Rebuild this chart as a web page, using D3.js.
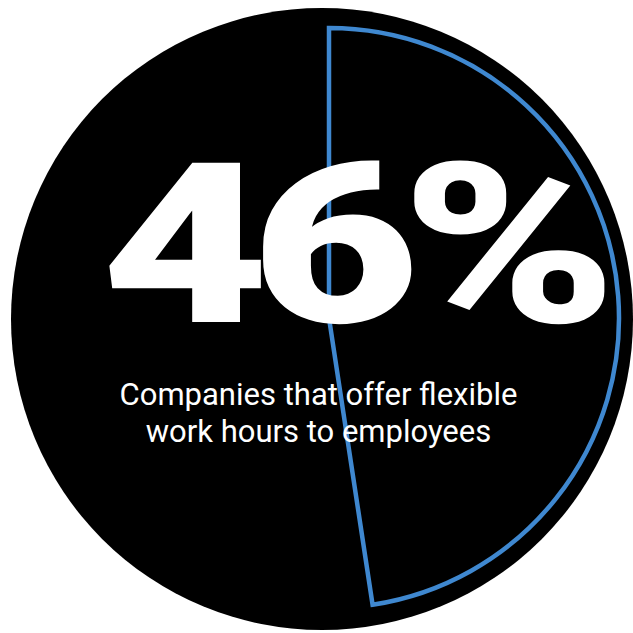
<!DOCTYPE html>
<html>
<head>
<meta charset="utf-8">
<script src="https://cdn.jsdelivr.net/npm/d3@7"></script>
<style>
  html, body { margin: 0; padding: 0; background: #ffffff; }
  svg { display: block; }
</style>
</head>
<body>
<svg id="chart" width="633" height="633"></svg>
<script>
// ---- data ----
const statLabel = ["46%"];
const captionLines = ["Companies that offer flexible", "work hours to employees"];
// share of the disc outlined by the blue wedge (percent of full turn)
const wedgeShare = [47.6];

// ---- drawing ----
const svg = d3.select("#chart");
const angle = d3.scaleLinear().domain([0, 100]).range([0, 2 * Math.PI]);

// black disc
const disc = d3.arc().innerRadius(0).outerRadius(311).startAngle(0).endAngle(2 * Math.PI);
svg.append("path")
  .attr("transform", "translate(322,319)")
  .attr("d", disc())
  .attr("fill", "#000");

// blue wedge outline
const wedge = d3.arc().innerRadius(0).outerRadius(290);
svg.selectAll("path.wedge")
  .data(wedgeShare)
  .join("path")
  .attr("class", "wedge")
  .attr("transform", "translate(329,318)")
  .attr("d", d => wedge({ startAngle: angle(0), endAngle: angle(d) }))
  .attr("fill", "none")
  .attr("stroke", "#3f88d0")
  .attr("stroke-width", 4.5)
  .attr("stroke-linejoin", "miter");

// big number (scaled horizontally to the reference width)
const statG = svg.append("g");
const stat = statG.selectAll("text.stat")
  .data(statLabel)
  .join("text")
  .attr("class", "stat")
  .attr("x", 0)
  .attr("y", 0)
  .attr("font-family", "Roboto, 'Liberation Sans', sans-serif")
  .attr("font-weight", 900)
  .attr("font-size", 224)
  .attr("letter-spacing", -14)
  .attr("fill", "#fff")
  .text(d => d);
const bb = stat.node().getBBox();
const targetW = 504;
const sx = targetW / bb.width;
statG.attr("transform", `translate(${101 - bb.x * sx},322) scale(${sx},1)`);

// caption
svg.selectAll("text.caption")
  .data(captionLines)
  .join("text")
  .attr("class", "caption")
  .attr("x", 318.5)
  .attr("y", (d, i) => 405 + i * 37)
  .attr("text-anchor", "middle")
  .attr("font-family", "Roboto, 'Noto Sans', sans-serif")
  .attr("font-weight", 400)
  .attr("font-size", 31)
  .attr("fill", "#fff")
  .text(d => d);
</script>
</body>
</html>
